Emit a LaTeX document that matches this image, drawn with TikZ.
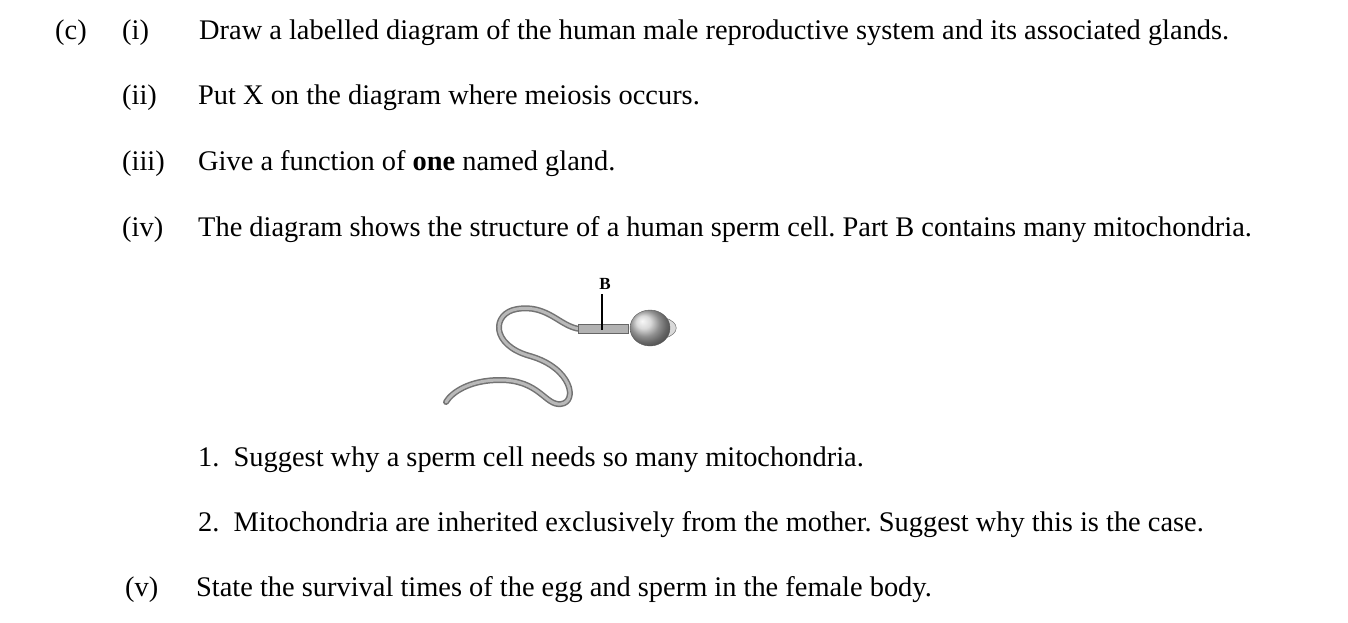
\documentclass[tikz,border=0pt]{standalone}
\usepackage{fontspec}
\setmainfont{Liberation Serif}
\begin{document}
\frenchspacing
\begin{tikzpicture}[x=1pt,y=-1pt,
  txt/.style={anchor=base west,inner sep=0pt,font=\fontsize{28.4}{32}\selectfont},
  tail/.style={line cap=round,line join=round}]
\useasboundingbox[fill=white] (0,0) rectangle (1348,623);
\node[txt] (c) at (55,40) {(c)};
\node[txt] (i) at (122,40) {(i)};
\node[txt] (t1) at (199,40) {Draw a labelled diagram of the human male reproductive system and its associated glands.};
\node[txt] (ii) at (122,105) {(ii)};
\node[txt] (t2) at (198,105) {Put X on the diagram where meiosis occurs.};
\node[txt] (iii) at (122,170) {(iii)};
\node[txt] (t3) at (198,170) {Give a function of \textbf{one} named gland.};
\node[txt] (iv) at (122,236) {(iv)};
\node[txt] (t4) at (198,236) {The diagram shows the structure of a human sperm cell. Part B contains many mitochondria.};
\node[txt] (s1) at (198,466) {1.\ \ Suggest why a sperm cell needs so many mitochondria.};
\node[txt] (s2) at (198,531) {2.\ \ Mitochondria are inherited exclusively from the mother. Suggest why this is the case.};
\node[txt] (v) at (125,596) {(v)};
\node[txt] (t5) at (196,596) {State the survival times of the egg and sperm in the female body.};
% sperm
\foreach \w/\c in {6/gray!90!black,3/gray!55} {
\draw[tail,line width=\w pt,draw=\c] (580,329) .. controls (560,327) and (548,304) .. (517,309)
  .. controls (492,313) and (490,345) .. (530,356)
  .. controls (572,368) and (578,402) .. (561,404)
  .. controls (545,406) and (540,380) .. (500,380)
  .. controls (470,380) and (452,392) .. (446,402);}
\draw[fill=gray!60,draw=gray!80!black] (578,324) rectangle (628,333);
\fill[gray!30,draw=gray!70!black] (665,318) .. controls (680,322) and (680,334) .. (665,338) -- cycle;
\shade[ball color=gray!40,draw=gray!70!black] (650,328) ellipse (20 and 18);
\coordinate (bp) at (602,330);
\node[anchor=base,inner sep=0pt,font=\fontsize{17}{18}\selectfont\bfseries] (B) at (605,289) {B};
\draw[line width=1.4pt] (602,294) -- (bp);
\end{tikzpicture}
\end{document}
